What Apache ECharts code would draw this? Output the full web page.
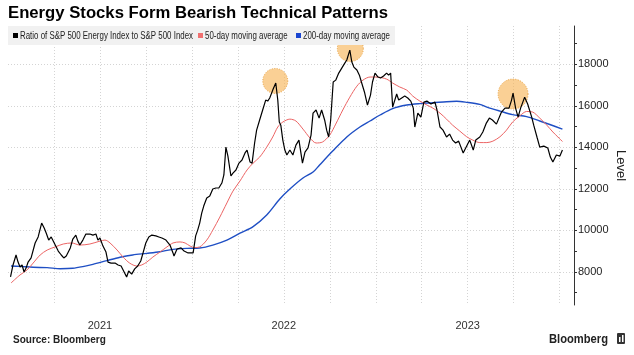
<!DOCTYPE html>
<html><head><meta charset="utf-8">
<script src="https://cdn.jsdelivr.net/npm/echarts@6/dist/echarts.min.js"></script>
<style>html,body{margin:0;padding:0;background:#fff}#c{width:634px;height:355px}</style>
</head><body><div id="c"></div>
<script>
const titleText = 'Energy Stocks Form Bearish Technical Patterns';
const seriesNames = ['Ratio of S&P 500 Energy Index to S&P 500 Index', '50-day moving average', '200-day moving average'];
const sourceText = 'Source: Bloomberg';
const axisName = 'Level';

const ratioDates = [
'2020-07-07','2020-07-12','2020-07-18','2020-07-22','2020-07-26','2020-07-30','2020-08-03','2020-08-07','2020-08-11','2020-08-17',
'2020-08-25','2020-08-31','2020-09-07','2020-09-12','2020-09-16','2020-09-21','2020-09-26','2020-10-04','2020-10-10','2020-10-16',
'2020-10-21','2020-10-26','2020-11-03','2020-11-08','2020-11-14','2020-11-18','2020-11-22','2020-11-28','2020-12-04','2020-12-12',
'2020-12-18','2020-12-24','2020-12-28','2021-01-01','2021-01-07','2021-01-13','2021-01-17','2021-01-23','2021-01-31','2021-02-06',
'2021-02-12','2021-02-16','2021-02-23','2021-02-27','2021-03-05','2021-03-11','2021-03-17','2021-03-23','2021-03-28','2021-04-02',
'2021-04-08','2021-04-14','2021-04-22','2021-04-28','2021-05-04','2021-05-12','2021-05-20','2021-05-26','2021-05-28','2021-06-03',
'2021-06-11','2021-06-17','2021-06-25','2021-07-01','2021-07-05','2021-07-10','2021-07-14','2021-07-18','2021-07-22','2021-07-26',
'2021-08-01','2021-08-07','2021-08-13','2021-08-19','2021-08-25','2021-08-31','2021-09-04','2021-09-08','2021-09-12','2021-09-18',
'2021-09-22','2021-09-28','2021-10-04','2021-10-10','2021-10-16','2021-10-20','2021-10-26','2021-10-30','2021-11-04','2021-11-08',
'2021-11-14','2021-11-20','2021-11-26','2021-11-30','2021-12-04','2021-12-10','2021-12-16','2021-12-20','2021-12-23','2021-12-26',
'2021-12-30','2022-01-03','2022-01-07','2022-01-13','2022-01-19','2022-01-25','2022-01-31','2022-02-07','2022-02-12','2022-02-18',
'2022-02-24','2022-02-28','2022-03-06','2022-03-12','2022-03-17','2022-03-23','2022-03-27','2022-03-31','2022-04-04','2022-04-09',
'2022-04-14','2022-04-20','2022-04-26','2022-05-02','2022-05-06','2022-05-12','2022-05-16','2022-05-20','2022-05-26','2022-05-31',
'2022-06-04','2022-06-10','2022-06-16','2022-06-22','2022-06-26','2022-07-01','2022-07-07','2022-07-12','2022-07-18','2022-07-24',
'2022-07-28','2022-08-01','2022-08-05','2022-08-13','2022-08-17','2022-08-23','2022-08-29','2022-09-04','2022-09-10','2022-09-15',
'2022-09-18','2022-09-24','2022-09-30','2022-10-06','2022-10-12','2022-10-20','2022-10-28','2022-11-01','2022-11-07','2022-11-13',
'2022-11-20','2022-11-26','2022-12-02','2022-12-08','2022-12-14','2022-12-23','2022-12-28','2023-01-05','2023-01-12','2023-01-17',
'2023-01-25','2023-01-31','2023-02-07','2023-02-13','2023-02-19','2023-02-27','2023-03-09','2023-03-16','2023-03-24','2023-03-29',
'2023-04-01','2023-04-06','2023-04-11','2023-04-16','2023-04-24','2023-04-30','2023-05-08','2023-05-12','2023-05-19','2023-05-24',
'2023-06-01','2023-06-09','2023-06-14','2023-06-19','2023-06-26','2023-07-03','2023-07-08'];
const ratioValues = [
7750,8330,8810,8470,8230,8330,7990,8180,8470,8670,
9390,9680,10350,10110,9870,9530,9680,9290,9000,8810,
8670,8760,9150,9580,9770,9480,9290,9530,9820,9820,
9770,9820,9530,9630,9240,8950,8470,8420,8420,8330,
8280,8090,7750,8040,7890,8140,8280,8520,8950,9390,
9680,9770,9730,9680,9630,9530,9290,8910,8760,9100,
9150,9000,8910,8910,8910,9730,10010,10350,10830,11170,
11560,11650,11990,12040,12040,12280,12670,14010,13580,12620,
12760,12910,13240,13390,13730,13870,13290,13240,14210,14830,
15320,15800,16280,16230,16380,16760,17100,16280,15220,15070,
14350,13870,13630,13870,13630,14110,14350,13240,13770,13970,
14590,15650,15800,15410,15800,15320,14830,14500,15320,17150,
17240,17580,17820,18060,18210,18690,18110,17870,17730,17480,
17150,16670,16040,16520,17150,17580,17390,17340,17440,17580,
17480,17580,15940,16570,16280,16380,16470,16380,16230,15890,
14980,15650,15460,16180,16230,16090,16180,15800,14980,14830,
14500,14640,14350,14210,14300,13730,13970,14350,13870,14350,
14500,14740,15170,15410,15320,15120,15700,15890,15890,16280,
16620,15890,15460,15890,16420,16090,15460,15070,14450,14010,
14060,13970,13530,13290,13630,13580,13870];

const ma50Dates = [
'2020-07-08','2020-07-26','2020-08-09','2020-08-21','2020-09-04','2020-09-18','2020-10-04','2020-10-20','2020-11-06','2020-11-22',
'2020-12-12','2021-01-01','2021-01-11','2021-01-21','2021-02-04','2021-02-16','2021-03-01','2021-03-15','2021-03-25','2021-04-04',
'2021-04-16','2021-04-30','2021-05-14','2021-05-26','2021-06-09','2021-06-19','2021-06-29','2021-07-08','2021-07-18','2021-08-01',
'2021-08-13','2021-08-27','2021-09-10','2021-09-22','2021-10-06','2021-10-20','2021-11-01','2021-11-14','2021-11-28','2021-12-10',
'2021-12-20','2021-12-30','2022-01-13','2022-01-25','2022-02-08','2022-02-22','2022-03-06','2022-03-19','2022-04-02','2022-04-14',
'2022-04-28','2022-05-12','2022-05-26','2022-06-07','2022-06-21','2022-07-05','2022-07-24','2022-08-05','2022-08-19','2022-09-02',
'2022-09-14','2022-09-28','2022-10-12','2022-10-24','2022-11-07','2022-11-20','2022-12-02','2022-12-16','2022-12-30','2023-01-11',
'2023-01-25','2023-02-08','2023-02-20','2023-03-06','2023-03-19','2023-03-31','2023-04-14','2023-04-28','2023-05-10','2023-05-24',
'2023-06-07','2023-06-19','2023-06-29','2023-07-08'];
const ma50Values = [
7460,7850,8090,8420,8810,9050,9200,9340,9390,9290,
9340,9480,9530,9390,9050,8710,8420,8280,8330,8470,
8710,8950,9200,9390,9440,9390,9240,9170,9200,9530,
10010,10640,11320,11890,12380,12910,13240,13530,14010,14500,
14980,15220,15360,15270,14880,14450,14210,14260,14590,15120,
15800,16420,16950,17240,17390,17390,17290,17100,16910,16760,
16470,16230,16040,15890,15650,15360,15070,14790,14510,14350,
14230,14230,14300,14510,14830,15220,15510,15730,15700,15410,
15070,14740,14500,14280];

const ma200Dates = [
'2020-07-08','2020-07-26','2020-08-21','2020-09-18','2020-10-14','2020-11-08','2020-11-28','2020-12-18','2021-01-15','2021-02-10',
'2021-03-07','2021-04-04','2021-04-30','2021-05-26','2021-06-23','2021-07-18','2021-08-13','2021-09-10','2021-10-06','2021-11-01',
'2021-11-28','2021-12-24','2022-01-13','2022-02-08','2022-02-28','2022-03-13','2022-04-08','2022-05-06','2022-06-01','2022-06-21',
'2022-07-11','2022-08-05','2022-09-02','2022-09-28','2022-10-24','2022-11-20','2022-12-10','2022-12-30','2023-01-25','2023-02-08',
'2023-03-06','2023-03-31','2023-04-28','2023-05-24','2023-06-13','2023-07-08'];
const ma200Values = [
8280,8260,8220,8200,8150,8170,8250,8360,8540,8700,
8810,8890,8970,9080,9130,9150,9290,9530,9860,10180,
10740,11510,11990,12520,12810,13150,13820,14500,14980,15270,
15560,15870,16040,16110,16150,16200,16220,16170,16070,15940,
15750,15580,15480,15270,15100,14880];

const peakDates = ['2021-12-15','2022-05-13','2023-04-01'];
const peakValues = [17200,18760,16570];

const yLabelValues = [8000,10000,12000,14000,16000,18000];
const yMinorTickValues = [7000,9000,11000,13000,15000,17000,19000];

// styling
const peakSizes = [25,26,30];
const seriesColors = ['#000000', '#ec6464', '#1f4fc4'];
const legendSwatch = ['#000000', '#f07070', '#1a45d0'];
const FONT = 'Liberation Sans';

function toYear(s){
  const p = s.split('-').map(Number);
  const y = p[0];
  const t0 = Date.UTC(y,0,1), t1 = Date.UTC(y+1,0,1);
  return y + (Date.UTC(y,p[1]-1,p[2]) - t0) / (t1 - t0);
}
function pairs(d, v){ return d.map((x,i)=>[toYear(x), v[i]]); }

// legend drawn as graphic (narrow text like the original)
const legendX = [13, 198, 296];
const legendGraphic = [{type:'rect', shape:{x:8, y:26, width:387, height:19}, style:{fill:'#f1f1f1'}, z:10}];
seriesNames.forEach((n,i)=>{
  legendGraphic.push({type:'rect', shape:{x:legendX[i], y:33, width:5, height:5}, style:{fill:legendSwatch[i]}, z:11});
  legendGraphic.push({type:'text', x:legendX[i]+7, y:36, scaleX:0.79, z:11,
    style:{text:n, font:'10px "Liberation Sans"', fill:'#222', verticalAlign:'middle'}});
});

const chart = echarts.init(document.getElementById('c'), null, {renderer:'canvas'});
chart.setOption({
  animation:false,
  backgroundColor:'#ffffff',
  title:{
    text:titleText, left:8, top:5, padding:0,
    textStyle:{fontFamily:FONT, fontWeight:'bold', fontSize:16.7, color:'#000'}
  },
  grid:{left:8, right:60, top:26, bottom:50, containLabel:false, outerBoundsMode:'none'},
  xAxis:{
    type:'value', min:2020.5, max:2023.578, interval:0.25,
    axisLine:{show:false}, axisTick:{show:false},
    axisLabel:{
      fontFamily:FONT, fontSize:11, color:'#333', margin:15,
      formatter:v => Math.abs(v - Math.round(v)) < 1e-6 ? String(Math.round(v)) : ''
    },
    splitLine:{show:true, showMinLine:false, showMaxLine:false, lineStyle:{color:'#d4d4d4', width:1, type:[1,2]}}
  },
  yAxis:[{
    type:'value', position:'right', min:6400, max:19850,
    axisLine:{show:true, lineStyle:{color:'#333', width:1}},
    axisTick:{show:true, inside:false, length:3, customValues:yLabelValues, lineStyle:{color:'#333'}},
    axisLabel:{customValues:yLabelValues, margin:4, fontFamily:FONT, fontSize:11, color:'#222',
      formatter:v => String(v)},
    splitLine:{show:true, lineStyle:{color:'#d4d4d4', width:1, type:[1,2]}},
    name:axisName, nameLocation:'middle', nameRotate:-90, nameGap:40, nameMoveOverlap:false,
    nameTextStyle:{fontFamily:FONT, fontSize:13, color:'#222'}
  },{
    type:'value', position:'right', min:6400, max:19850,
    axisLine:{show:false},
    axisTick:{show:true, inside:false, length:3, customValues:yMinorTickValues, lineStyle:{color:'#333'}},
    axisLabel:{show:false}, splitLine:{show:false}
  }],
  series:[
    {
      type:'scatter', name:'peaks', data:pairs(peakDates, peakValues), z:1, silent:true,
      symbol:'circle', symbolSize:(v,p)=>peakSizes[p.dataIndex],
      itemStyle:{color:'rgba(247,180,85,0.78)', borderColor:'#e3952a', borderWidth:1, borderType:[1,1.5]}
    },
    {
      type:'line', name:seriesNames[2], data:pairs(ma200Dates, ma200Values), z:2,
      showSymbol:false, smooth:0.3, color:seriesColors[2], lineStyle:{color:seriesColors[2], width:1.4}
    },
    {
      type:'line', name:seriesNames[1], data:pairs(ma50Dates, ma50Values), z:3,
      showSymbol:false, smooth:0.3, color:seriesColors[1], lineStyle:{color:seriesColors[1], width:1}
    },
    {
      type:'line', name:seriesNames[0], data:pairs(ratioDates, ratioValues), z:4,
      showSymbol:false, color:seriesColors[0], lineStyle:{color:seriesColors[0], width:1.2}
    }
  ],
  graphic: legendGraphic.concat([
    {type:'text', left:13, top:335, style:{text:sourceText, font:'bold 10px "Liberation Sans"', fill:'#222'}},
    {type:'text', x:549, y:333, scaleX:0.86, style:{text:'Bloomberg', font:'bold 13px "Liberation Sans"', fill:'#222'}},
    {type:'rect', shape:{x:617, y:333, width:8, height:11, r:1}, style:{fill:'#333'}},
    {type:'rect', shape:{x:619, y:337, width:1.5, height:5}, style:{fill:'#fff'}},
    {type:'rect', shape:{x:622, y:335, width:1.5, height:7}, style:{fill:'#fff'}}
  ])
});
</script>
</body></html>
